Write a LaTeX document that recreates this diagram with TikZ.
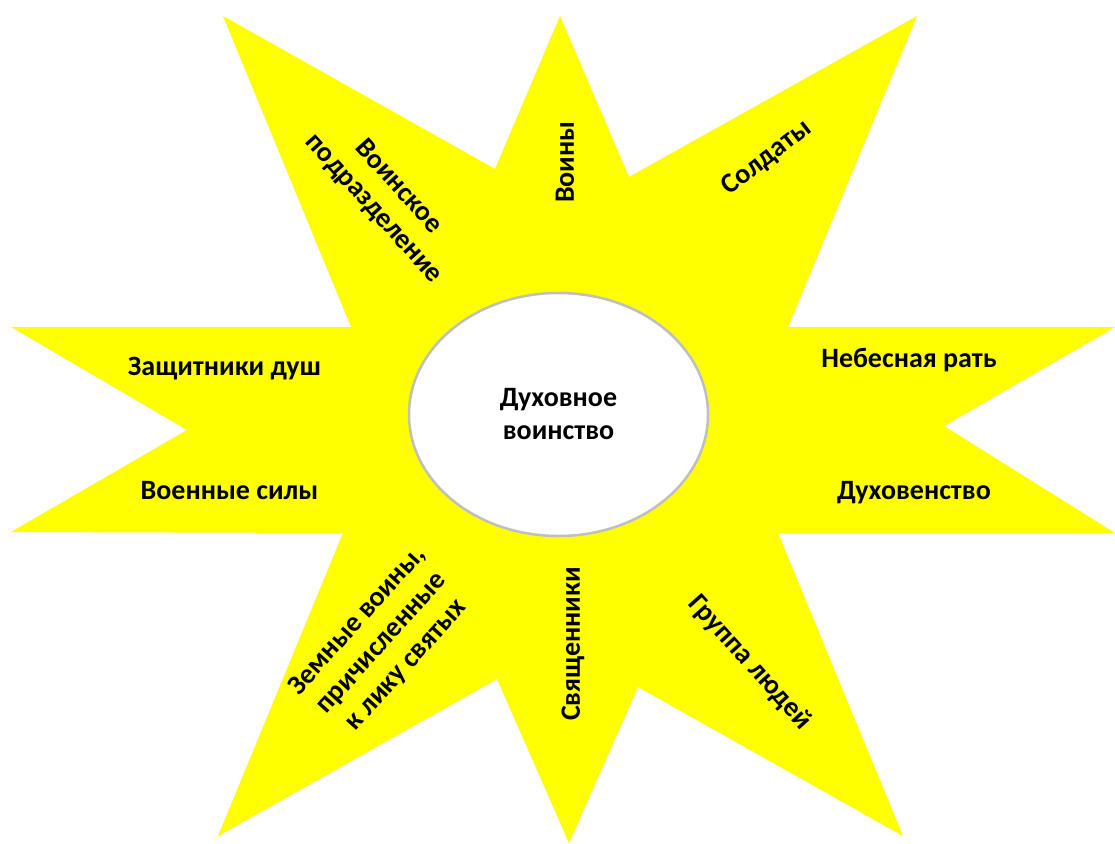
\documentclass[tikz,border=0pt]{standalone}
\usepackage{fontspec}
\setmainfont{Carlito}
\usetikzlibrary{shapes.geometric}
\definecolor{staryellow}{HTML}{FFFF00}
\definecolor{ringgray}{HTML}{BFBFBF}
\tikzset{
  lbl/.style={font=\bfseries\fontsize{28}{33}\selectfont, align=center, inner sep=0pt},
  starshape/.style={fill=staryellow},
  hub/.style={ellipse, draw=ringgray, line width=2.5pt, fill=white, minimum width=299pt, minimum height=243pt, inner sep=0pt}
}
\begin{document}
\begin{tikzpicture}[x=1pt,y=-1pt]
\useasboundingbox (0,0) rectangle (1115,843);
\fill[starshape] (223,16) -- (495,169) -- (560,16) -- (629,177) -- (917,16) -- (788,327)
  -- (1115,327) -- (944,426) -- (1115,533) -- (778,533) -- (903,836) -- (638,687)
  -- (569,843) -- (497,679) -- (218,836) -- (343,533) -- (11,532) -- (187,430)
  -- (11,327) -- (351,327) -- cycle;
\node[hub, lbl] (hubnode) at (558.5,414.5) {Духовное\\воинство};
\node[lbl, anchor=base] (zash) at (224.5,375) {Защитники душ};
\node[lbl, anchor=base] (voen) at (229.5,499) {Военные силы};
\node[lbl, anchor=base] (neb) at (909,367) {Небесная рать};
\node[lbl, anchor=base] (duh) at (914,499) {Духовенство};
\node[lbl, rotate=90] (voiny) at (565,162) {Воины};
\node[lbl, rotate=90] (svya) at (573,644) {Священники};
\node[lbl, rotate=38] (sold) at (767,158) {Солдаты};
\node[lbl, rotate=-48] (grup) at (750,663) {Группа людей};
\node[lbl, rotate=-48] (podr) at (386,198) {Воинское\\подразделение};
\node[lbl, rotate=48] (zemn) at (382,643) {Земные воины,\\причисленные\\к лику святых};
\end{tikzpicture}
\end{document}
